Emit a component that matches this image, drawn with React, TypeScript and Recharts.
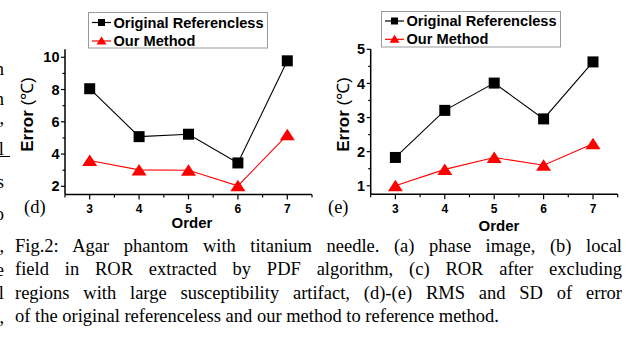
import React from 'react';
import { LineChart, Line, XAxis, YAxis, Legend } from 'recharts';

// ---- data ----
const orders = [3, 4, 5, 6, 7];
const rmsOriginal = [8.05, 5.08, 5.23, 3.45, 9.78];
const rmsOurs = [3.6, 3.02, 3.0, 2.03, 5.19];
const sdOriginal = [1.83, 3.21, 4.01, 2.96, 4.63];
const sdOurs = [1.0, 1.48, 1.83, 1.6, 2.23];

const xMajorTicks = [3, 4, 5, 6, 7];
const xMinorTicks = [2.5, 3.5, 4.5, 5.5, 6.5, 7.5];
const rmsYTicks = [2, 4, 6, 8, 10];
const rmsYMinor = [3, 5, 7, 9];
const sdYTicks = [1, 2, 3, 4, 5];
const sdYMinor = [1.5, 2.5, 3.5, 4.5];

const seriesNames = ['Original Referencless', 'Our Method'];
const yLabelBold = 'Error';
const yLabelUnit = ' (\u2103)';
const xLabel = 'Order';
const panelTags = ['(d)', '(e)'];

const captionLines = [
  'Fig.2: Agar phantom with titanium needle. (a) phase image, (b) local',
  'field in ROR extracted by PDF algorithm, (c) ROR after excluding',
  'regions with large susceptibility artifact, (d)-(e) RMS and SD of error',
  'of the original referenceless and our method to reference method.',
];
const leftFragments = ['n', 'n', ',', 'l', 's', 'o', ',', 'e', 'l', ','];

const SANS = '"Liberation Sans", Arial, sans-serif';
const SERIF = '"Liberation Serif", "Times New Roman", serif';

const buildData = (a: number[], b: number[]) =>
  orders.map((o, i) => ({ order: o, original: a[i], ours: b[i] }));

const Square = (props: any) => {
  const { cx, cy, index } = props;
  if (cx == null || cy == null) return <g key={`s${index}`} />;
  return <rect key={`s${index}`} x={cx - 5.5} y={cy - 5.5} width={11} height={11} fill="#000" />;
};

const Triangle = (props: any) => {
  const { cx, cy, index } = props;
  if (cx == null || cy == null) return <g key={`t${index}`} />;
  return (
    <polygon
      key={`t${index}`}
      points={`${cx},${cy - 6} ${cx - 7.5},${cy + 5.5} ${cx + 7.5},${cy + 5.5}`}
      fill="#ff0000"
    />
  );
};

const makeXTick = (majors: number[]) => (props: any) => {
  const { x, y, payload } = props;
  const v = payload?.value;
  const major = majors.indexOf(v) >= 0;
  return (
    <g>
      <line x1={x} x2={x} y1={y} y2={y + (major ? 5 : 3)} stroke="#000" strokeWidth={1.2} />
      {major && (
        <text
          x={x}
          y={y + 10.3}
          dy="0.71em"
          textAnchor="middle"
          fontFamily={SANS}
          fontWeight="bold"
          fontSize={12}
          fill="#000"
        >
          {v}
        </text>
      )}
    </g>
  );
};

const makeYTick = (majors: number[]) => (props: any) => {
  const { x, y, payload } = props;
  const v = payload?.value;
  const major = majors.indexOf(v) >= 0;
  return (
    <g>
      <line x1={x} x2={x - (major ? 4 : 2.5)} y1={y} y2={y} stroke="#000" strokeWidth={1.2} />
      {major && (
        <text
          x={x - 5.5}
          y={y}
          dy="0.355em"
          textAnchor="end"
          fontFamily={SANS}
          fontWeight="bold"
          fontSize={14.5}
          fill="#000"
        >
          {v}
        </text>
      )}
    </g>
  );
};

const makeLegend = (rows: number[]) => (props: any) => {
  const payload = props.payload || [];
  return (
    <svg width={180} height={37} style={{ display: 'block' }}>
      <rect x={0.5} y={0.5} width={179} height={35.5} fill="#fff" stroke="#9a9a9a" strokeWidth={1} />
      {payload.map((entry: any, i: number) => {
        const y = rows[i];
        const isOurs = entry.dataKey === 'ours';
        const color = isOurs ? '#ff0000' : '#000';
        return (
          <g key={i}>
            <line x1={4} x2={23} y1={y} y2={y} stroke={color} strokeWidth={1.2} />
            {isOurs ? (
              <polygon points={`13.5,${y - 4.5} ${8.5},${y + 3.5} ${18.5},${y + 3.5}`} fill={color} />
            ) : (
              <rect x={10} y={y - 3.5} width={7} height={7} fill={color} />
            )}
            <text
              x={25.5}
              y={y}
              dominantBaseline="central"
              fontFamily={SANS}
              fontWeight="bold"
              fontSize={14.6}
              fill="#000"
            >
              {entry.value}
            </text>
          </g>
        );
      })}
    </svg>
  );
};

type PanelProps = {
  left: number;
  width: number;
  plotLeft: number;
  top: number;
  right: number;
  plotBottom: number;
  data: any[];
  yDomain: [number, number];
  yTicks: number[];
  yMinor: number[];
  legendPos: { left: number; top: number };
  legendRows: number[];
};

const H = 232;

const Panel = (p: PanelProps) => {
  const xAll = [...xMajorTicks, ...xMinorTicks].sort((a, b) => a - b);
  const yAll = [...p.yTicks, ...p.yMinor].sort((a, b) => a - b);
  return (
    <div style={{ position: 'absolute', left: p.left, top: 0, width: p.width, height: H }}>
      <LineChart
        width={p.width}
        height={H}
        data={p.data}
        margin={{ top: p.top, right: p.right, bottom: 0, left: 0 }}
      >
        <XAxis
          dataKey="order"
          type="number"
          domain={[2.5, 7.5]}
          ticks={xAll}
          interval={0}
          allowDataOverflow
          height={H - p.plotBottom}
          axisLine={{ stroke: '#000', strokeWidth: 1.5 }}
          tickLine={false}
          tickSize={0}
          tickMargin={0}
          tick={makeXTick(xMajorTicks)}
        />
        <YAxis
          type="number"
          domain={p.yDomain}
          ticks={yAll}
          interval={0}
          allowDataOverflow
          width={p.plotLeft}
          axisLine={{ stroke: '#000', strokeWidth: 1.5 }}
          tickLine={false}
          tickSize={0}
          tickMargin={0}
          tick={makeYTick(p.yTicks)}
        />
        <Legend
          layout="vertical"
          align="center"
          verticalAlign="top"
          content={makeLegend(p.legendRows)}
          wrapperStyle={{ position: 'absolute', left: p.legendPos.left, top: p.legendPos.top, width: 180, height: 37 }}
        />
        <Line
          dataKey="original"
          name={seriesNames[0]}
          type="linear"
          stroke="#000"
          strokeWidth={1.1}
          dot={Square}
          activeDot={false}
          isAnimationActive={false}
        />
        <Line
          dataKey="ours"
          name={seriesNames[1]}
          type="linear"
          stroke="#ff0000"
          strokeWidth={1.1}
          dot={Triangle}
          activeDot={false}
          isAnimationActive={false}
        />
      </LineChart>
    </div>
  );
};

const fragmentBaselines = [75, 105, 124, 155, 188, 220, 252, 275.5, 299, 322.5];
const captionBaselines = [252, 275.5, 299, 322.5];

export default function App() {
  const rmsData = buildData(rmsOriginal, rmsOurs);
  const sdData = buildData(sdOriginal, sdOurs);
  return (
    <div
      style={{
        position: 'absolute',
        left: 0,
        top: 0,
        width: 639,
        height: 338,
        background: '#fff',
        overflow: 'hidden',
      }}
    >
      <Panel
        left={0}
        width={320}
        plotLeft={65}
        top={12.2}
        right={8}
        plotBottom={194.4}
        data={rmsData}
        yDomain={[1.5, 10.5]}
        yTicks={rmsYTicks}
        yMinor={rmsYMinor}
        legendPos={{ left: 87.5, top: 12 }}
        legendRows={[10.5, 29]}
      />
      <Panel
        left={320}
        width={319}
        plotLeft={50.7}
        top={12.3}
        right={21.3}
        plotBottom={194.3}
        data={sdData}
        yDomain={[0.75, 5]}
        yTicks={sdYTicks}
        yMinor={sdYMinor}
        legendPos={{ left: 61, top: 11 }}
        legendRows={[10, 28.3]}
      />
      <svg
        width={639}
        height={338}
        style={{ position: 'absolute', left: 0, top: 0, pointerEvents: 'none' }}
      >
        {[27, 343].map((cx, i) => (
          <text
            key={`yl${i}`}
            transform={`translate(${cx + 6},114.5) rotate(-90)`}
            textAnchor="middle"
            fontFamily={SANS}
            fontSize={17}
            fill="#000"
          >
            <tspan fontWeight="bold">{yLabelBold}</tspan>
            <tspan>{yLabelUnit}</tspan>
          </text>
        ))}
        <text x={192} y={227.5} textAnchor="middle" fontFamily={SANS} fontWeight="bold" fontSize={15} fill="#000">
          {xLabel}
        </text>
        <text x={499} y={230.5} textAnchor="middle" fontFamily={SANS} fontWeight="bold" fontSize={15} fill="#000">
          {xLabel}
        </text>
        <text x={24} y={213} fontFamily={SERIF} fontSize={18.5} fill="#000">
          {panelTags[0]}
        </text>
        <text x={328} y={213} fontFamily={SERIF} fontSize={18.5} fill="#000">
          {panelTags[1]}
        </text>
        {leftFragments.map((ch, i) => (
          <text key={`f${i}`} x={4} y={fragmentBaselines[i]} textAnchor="end" fontFamily={SERIF} fontSize={18.5} fill="#000">
            {ch}
          </text>
        ))}
        <line x1={0} x2={10} y1={156.5} y2={156.5} stroke="#000" strokeWidth={1} />
      </svg>
      {captionLines.map((line, i) => (
        <div
          key={`c${i}`}
          style={{
            position: 'absolute',
            left: 15,
            top: captionBaselines[i] - 16.5,
            width: 607,
            fontFamily: SERIF,
            fontSize: 18.5,
            lineHeight: '20.5px',
            whiteSpace: 'nowrap',
            textAlign: i < 3 ? 'justify' : 'left',
            textAlignLast: i < 3 ? 'justify' : 'left',
            color: '#000',
          }}
        >
          {line}
        </div>
      ))}
    </div>
  );
}
